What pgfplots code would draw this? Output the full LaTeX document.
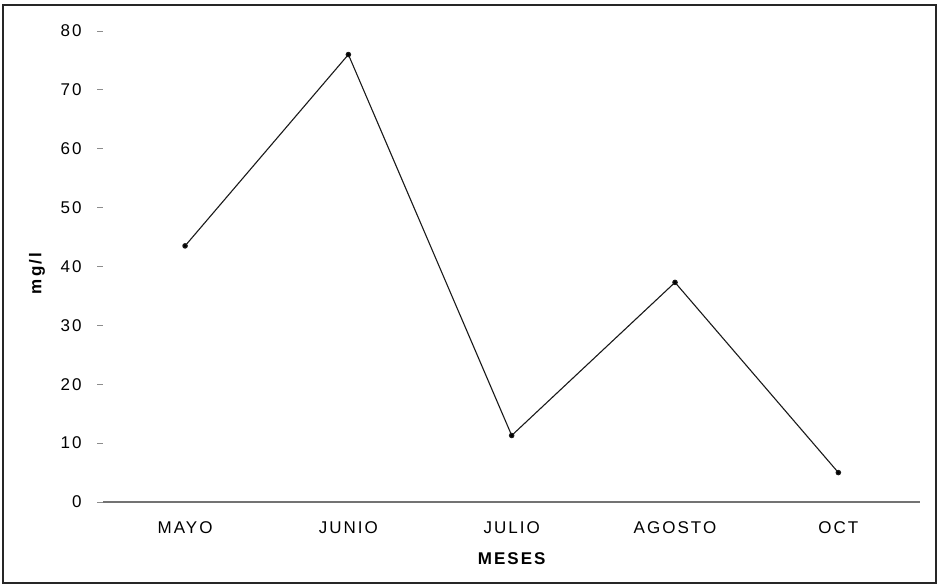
\documentclass[border=0pt]{standalone}
\usepackage{fontspec}
\setmainfont[LetterSpace=12]{Liberation Sans}
\usepackage{pgfplots}
\pgfplotsset{compat=1.18}
\begin{document}
\begin{tikzpicture}
\useasboundingbox (0,0) rectangle (469pt,292.5pt);
\draw[line width=1pt, black!85] (1.5pt,1pt) rectangle (468pt,290pt);
\begin{axis}[
  at={(51.7pt,41.5pt)}, anchor=south west,
  scale only axis, width=408.3pt, height=235.5pt,
  xmin=-0.5, xmax=4.5, ymin=0, ymax=80,
  axis lines=left,
  axis line style={-},
  y axis line style={draw=none},
  x axis line style={black!55, line width=0.6pt},
  xtick={0,1,2,3,4},
  xticklabels={MAYO,JUNIO,JULIO,AGOSTO,OCT},
  x tick style={draw=none},
  ytick={0,10,...,80},
  y tick style={black!45, line width=0.5pt},
  tick align=outside,
  major tick length=3pt,
  /pgf/number format/assume math mode=true,
  tick label style={font=\fontsize{8.5}{10}\selectfont},
  yticklabel style={xshift=-4.4pt},
  xticklabel style={anchor=center, yshift=-10pt},
  every axis y label/.style={at={(rel axis cs:0,0.5)}, xshift=-33.2pt, yshift=-3.5pt, rotate=90, anchor=center, font=\fontsize{8.5}{10}\selectfont\bfseries},
  every axis x label/.style={at={(rel axis cs:0.5,0)}, yshift=-28.5pt, anchor=center, font=\fontsize{8.5}{10}\selectfont\bfseries},
  ylabel={mg/l},
  xlabel={MESES},
  clip=false,
]
\addplot[black!90, line width=0.55pt, mark=*, mark size=1.1pt, mark options={fill=black}]
  coordinates {(0,43.5) (1,76) (2,11.3) (3,37.3) (4,5)};
\end{axis}
\end{tikzpicture}
\end{document}
